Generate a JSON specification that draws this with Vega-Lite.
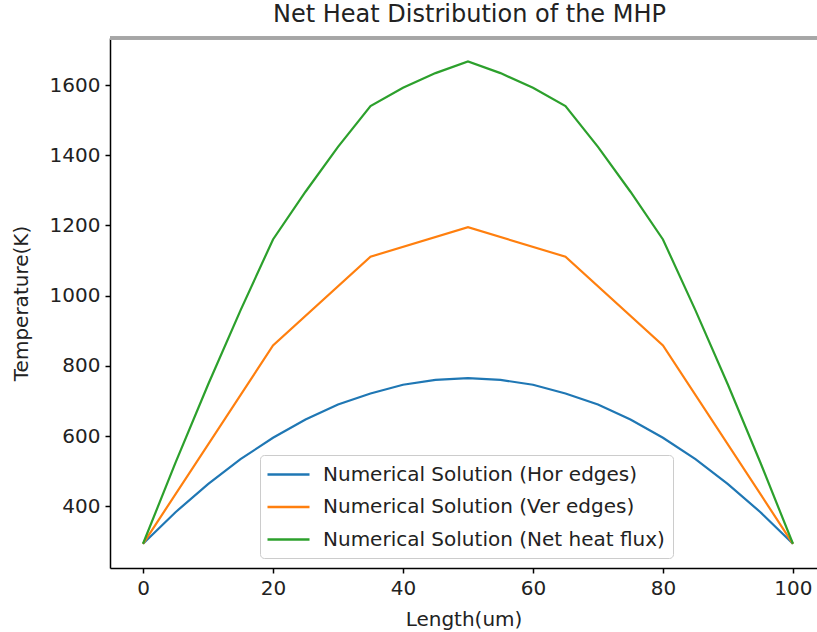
{
  "$schema": "https://vega.github.io/schema/vega-lite/v6.json",
  "width": 707,
  "height": 530,
  "autosize": {"type": "none"},
  "padding": {"left": 110, "top": 38, "right": 0, "bottom": 64},
  "background": "white",
  "config": {
    "font": "DejaVu Sans",
    "view": {"stroke": null},
    "axis": {
      "grid": false,
      "domainColor": "#000000",
      "domainWidth": 1.5,
      "tickColor": "#000000",
      "tickWidth": 1.5,
      "tickSize": 5,
      "labelFont": "DejaVu Sans",
      "labelFontSize": 20,
      "labelColor": "#222222",
      "titleFont": "DejaVu Sans",
      "titleFontSize": 20,
      "titleFontWeight": "normal",
      "titleColor": "#222222"
    }
  },
  "title": {
    "text": "Net Heat Distribution of the MHP",
    "font": "DejaVu Sans",
    "fontSize": 24,
    "fontWeight": "normal",
    "color": "#222222",
    "anchor": "middle",
    "dx": 6,
    "offset": 10
  },
  "data": {
    "values": [
      {"x": 0, "T": 293, "series": "Numerical Solution (Hor edges)"},
      {"x": 5, "T": 383, "series": "Numerical Solution (Hor edges)"},
      {"x": 10, "T": 463, "series": "Numerical Solution (Hor edges)"},
      {"x": 15, "T": 534, "series": "Numerical Solution (Hor edges)"},
      {"x": 20, "T": 595, "series": "Numerical Solution (Hor edges)"},
      {"x": 25, "T": 647, "series": "Numerical Solution (Hor edges)"},
      {"x": 30, "T": 690, "series": "Numerical Solution (Hor edges)"},
      {"x": 35, "T": 721, "series": "Numerical Solution (Hor edges)"},
      {"x": 40, "T": 746, "series": "Numerical Solution (Hor edges)"},
      {"x": 45, "T": 760, "series": "Numerical Solution (Hor edges)"},
      {"x": 50, "T": 765, "series": "Numerical Solution (Hor edges)"},
      {"x": 55, "T": 760, "series": "Numerical Solution (Hor edges)"},
      {"x": 60, "T": 746, "series": "Numerical Solution (Hor edges)"},
      {"x": 65, "T": 721, "series": "Numerical Solution (Hor edges)"},
      {"x": 70, "T": 690, "series": "Numerical Solution (Hor edges)"},
      {"x": 75, "T": 647, "series": "Numerical Solution (Hor edges)"},
      {"x": 80, "T": 595, "series": "Numerical Solution (Hor edges)"},
      {"x": 85, "T": 534, "series": "Numerical Solution (Hor edges)"},
      {"x": 90, "T": 463, "series": "Numerical Solution (Hor edges)"},
      {"x": 95, "T": 383, "series": "Numerical Solution (Hor edges)"},
      {"x": 100, "T": 293, "series": "Numerical Solution (Hor edges)"},

      {"x": 0, "T": 293, "series": "Numerical Solution (Ver edges)"},
      {"x": 20, "T": 858, "series": "Numerical Solution (Ver edges)"},
      {"x": 35, "T": 1111, "series": "Numerical Solution (Ver edges)"},
      {"x": 50, "T": 1195, "series": "Numerical Solution (Ver edges)"},
      {"x": 65, "T": 1111, "series": "Numerical Solution (Ver edges)"},
      {"x": 80, "T": 858, "series": "Numerical Solution (Ver edges)"},
      {"x": 100, "T": 293, "series": "Numerical Solution (Ver edges)"},

      {"x": 0, "T": 293, "series": "Numerical Solution (Net heat flux)"},
      {"x": 5, "T": 524, "series": "Numerical Solution (Net heat flux)"},
      {"x": 10, "T": 746, "series": "Numerical Solution (Net heat flux)"},
      {"x": 15, "T": 958, "series": "Numerical Solution (Net heat flux)"},
      {"x": 20, "T": 1160, "series": "Numerical Solution (Net heat flux)"},
      {"x": 25, "T": 1296, "series": "Numerical Solution (Net heat flux)"},
      {"x": 30, "T": 1424, "series": "Numerical Solution (Net heat flux)"},
      {"x": 35, "T": 1540, "series": "Numerical Solution (Net heat flux)"},
      {"x": 40, "T": 1592, "series": "Numerical Solution (Net heat flux)"},
      {"x": 45, "T": 1634, "series": "Numerical Solution (Net heat flux)"},
      {"x": 50, "T": 1667, "series": "Numerical Solution (Net heat flux)"},
      {"x": 55, "T": 1634, "series": "Numerical Solution (Net heat flux)"},
      {"x": 60, "T": 1592, "series": "Numerical Solution (Net heat flux)"},
      {"x": 65, "T": 1540, "series": "Numerical Solution (Net heat flux)"},
      {"x": 70, "T": 1424, "series": "Numerical Solution (Net heat flux)"},
      {"x": 75, "T": 1296, "series": "Numerical Solution (Net heat flux)"},
      {"x": 80, "T": 1160, "series": "Numerical Solution (Net heat flux)"},
      {"x": 85, "T": 958, "series": "Numerical Solution (Net heat flux)"},
      {"x": 90, "T": 746, "series": "Numerical Solution (Net heat flux)"},
      {"x": 95, "T": 524, "series": "Numerical Solution (Net heat flux)"},
      {"x": 100, "T": 293, "series": "Numerical Solution (Net heat flux)"}
    ]
  },
  "layer": [
    {
      "mark": {"type": "rule", "color": "#a6a6a6", "strokeWidth": 2.5},
      "encoding": {
        "y": {"datum": 1734, "type": "quantitative"}
      }
    },
    {
      "mark": {"type": "line", "strokeWidth": 2.2, "clip": true},
      "encoding": {
        "x": {
          "field": "x",
          "type": "quantitative",
          "scale": {"domain": [-5.08, 103.7], "nice": false, "zero": false},
          "axis": {"values": [0, 20, 40, 60, 80, 100], "title": "Length(um)", "labelPadding": 5, "titlePadding": 11}
        },
        "y": {
          "field": "T",
          "type": "quantitative",
          "scale": {"domain": [224, 1734], "nice": false, "zero": false},
          "axis": {"values": [400, 600, 800, 1000, 1200, 1400, 1600], "format": "d", "title": "Temperature(K)", "labelPadding": 5, "titlePadding": 18}
        },
        "color": {
          "field": "series",
          "type": "nominal",
          "sort": null,
          "scale": {
            "domain": ["Numerical Solution (Hor edges)", "Numerical Solution (Ver edges)", "Numerical Solution (Net heat flux)"],
            "range": ["#1f77b4", "#ff7f0e", "#2ca02c"]
          },
          "legend": {
            "title": null,
            "orient": "none",
            "legendX": 150,
            "legendY": 417,
            "symbolType": "M-2.1,0H2.1",
            "symbolSize": 400,
            "symbolStrokeWidth": 2.5,
            "symbolOffset": 9,
            "labelFontSize": 20,
            "labelFont": "DejaVu Sans",
            "labelColor": "#222222",
            "labelOffset": 23,
            "rowPadding": 10.5,
            "padding": 8,
            "strokeColor": "#cccccc",
            "fillColor": "rgba(255,255,255,0.85)",
            "cornerRadius": 4,
            "labelLimit": 500
          }
        }
      }
    }
  ]
}
